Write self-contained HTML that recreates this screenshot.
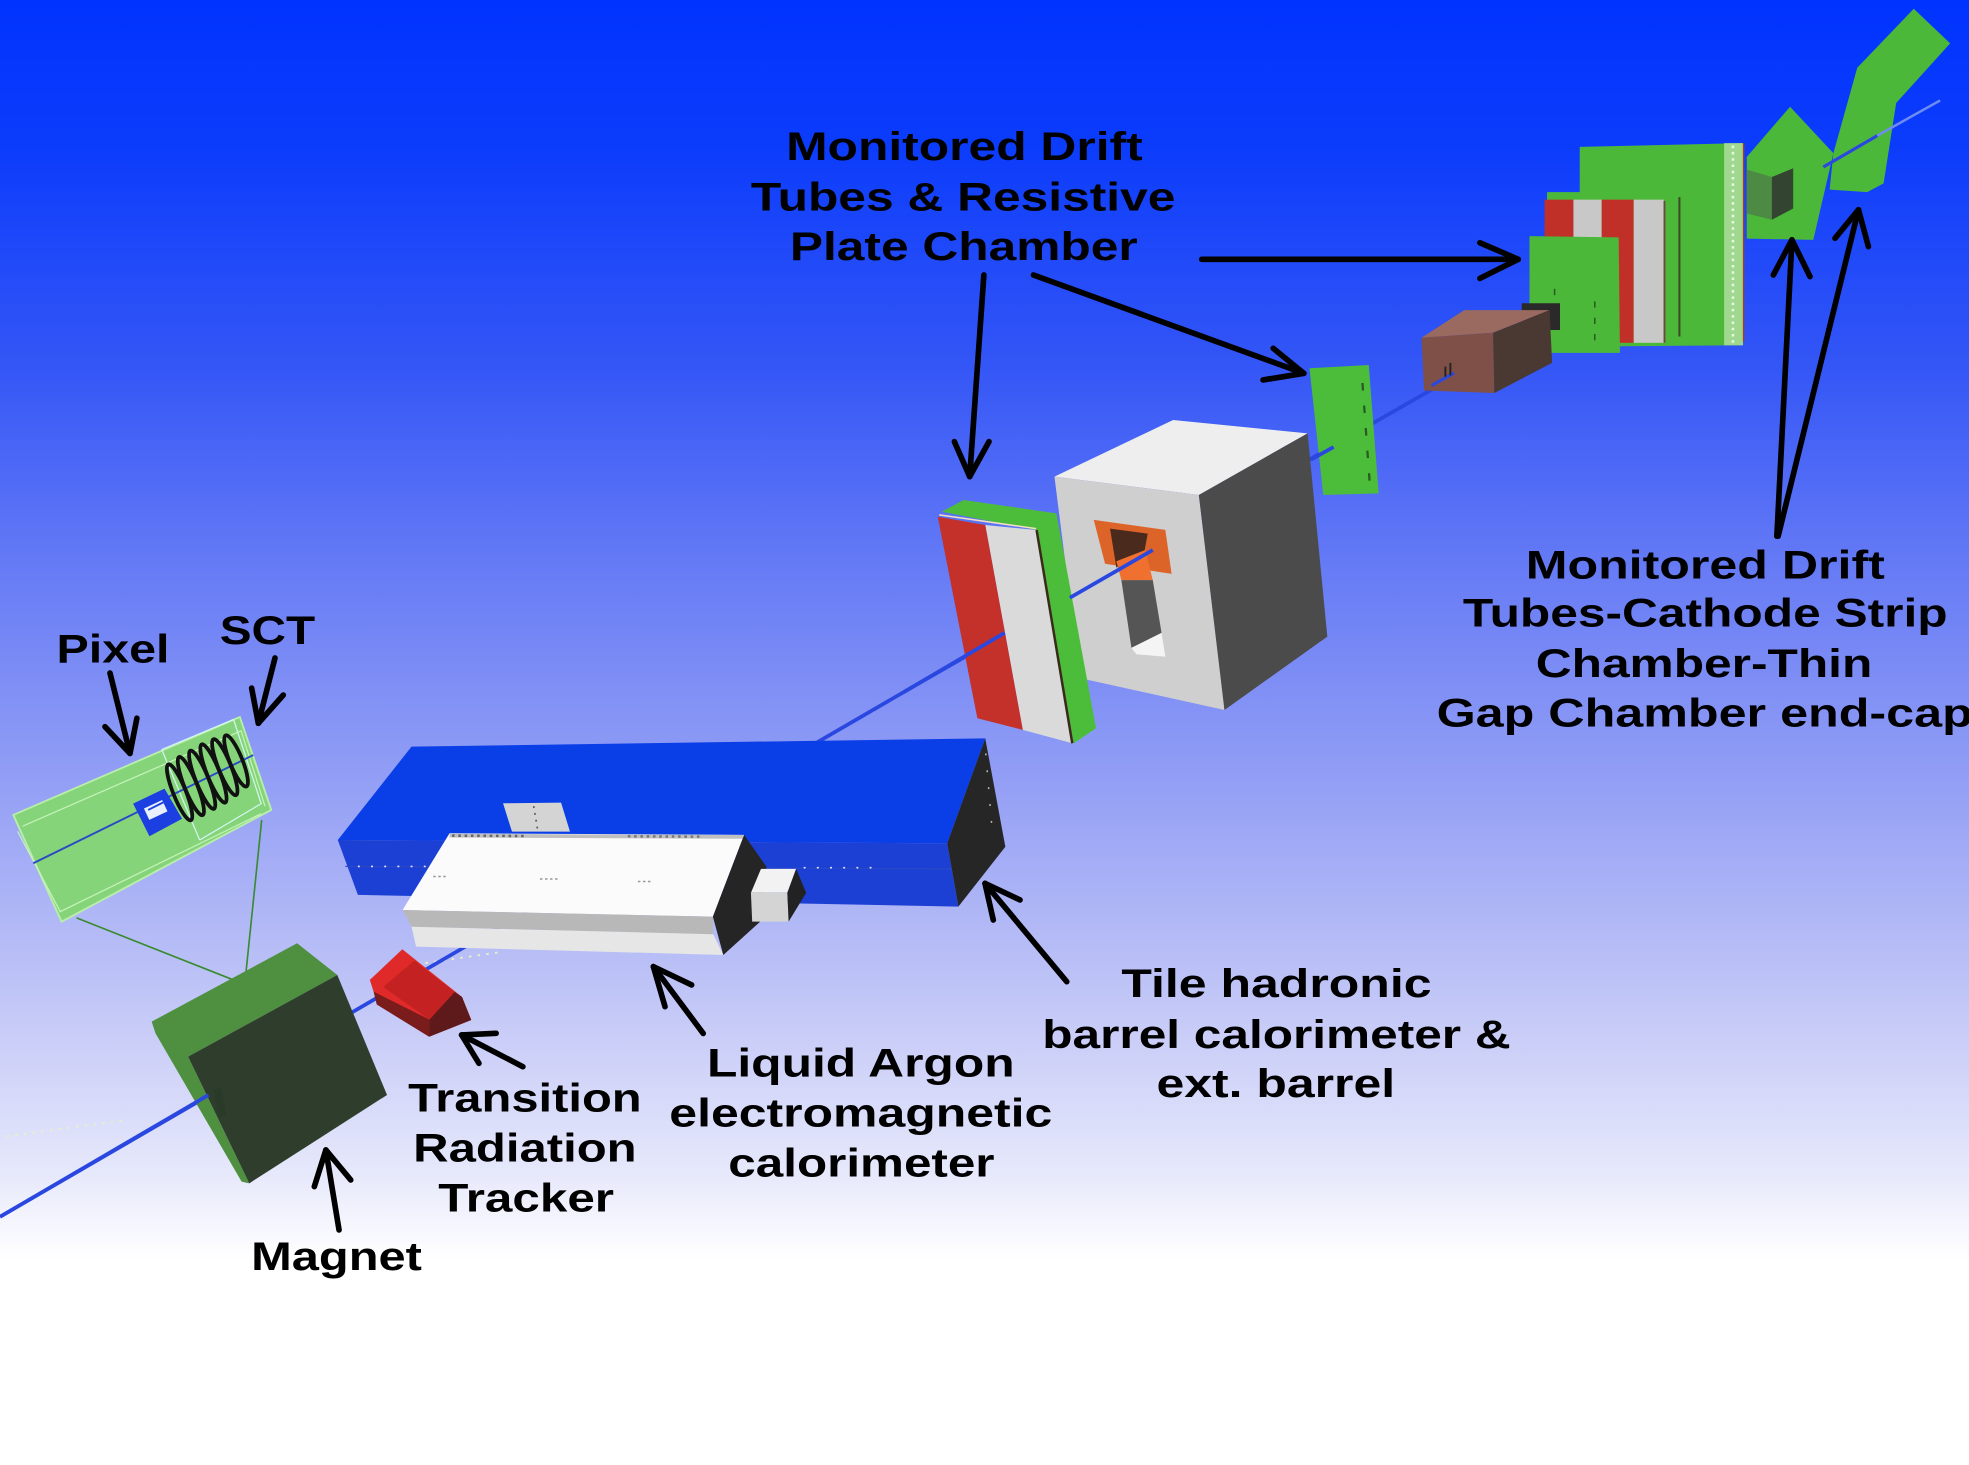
<!DOCTYPE html>
<html><head><meta charset="utf-8"><style>
html,body{margin:0;padding:0;background:#fff;overflow:hidden;}
svg{display:block;}
text{font-family:"Liberation Sans",Arial,sans-serif;font-weight:bold;font-size:32px;fill:#000;}
</style></head><body>
<svg width="1969" height="1465" viewBox="0 0 1568 1166.7" preserveAspectRatio="none" xmlns="http://www.w3.org/2000/svg">
<defs>
<linearGradient id="bg" x1="0" y1="0" x2="0" y2="1">
<stop offset="0" stop-color="#0033ff"/>
<stop offset="0.1" stop-color="#0c3cfb"/>
<stop offset="0.25" stop-color="#3456f6"/>
<stop offset="0.4" stop-color="#6a7ef5"/>
<stop offset="0.55" stop-color="#98a3f5"/>
<stop offset="0.7" stop-color="#c7cbf7"/>
<stop offset="0.8" stop-color="#e6e8fb"/>
<stop offset="0.86" stop-color="#ffffff"/>
<stop offset="1" stop-color="#ffffff"/>
</linearGradient>
</defs>
<rect x="0" y="0" width="1568" height="1166.7" fill="url(#bg)"/>

<polyline points="5,905 100,892" stroke="#e8f0c8" stroke-width="1.5" stroke-dasharray="2 5" fill="none"/>
<polyline points="318,770 400,758" stroke="#e8f0c8" stroke-width="1.5" stroke-dasharray="2 5" fill="none"/>

<polyline points="0,969 732,544 1158,300" stroke="#2a48e0" stroke-width="3" fill="none"/>

<polygon points="10.6,649 191,571 216,645 49,734" fill="#86d47a" stroke="#b8eeaa" stroke-width="1.5"/>
<polyline points="18,658 192,582 211,642" stroke="#c4f2b8" stroke-width="1" fill="none"/>
<polyline points="14,662 48,726 208,648" stroke="#c4f2b8" stroke-width="1" fill="none"/>
<polyline points="128.8,597 159,669" stroke="#d0f6f0" stroke-width="1" fill="none"/>
<polyline points="128.8,597 186,573 208,640 159,669" stroke="#d0f6f0" stroke-width="1" fill="none"/>
<line x1="26.5" y1="687.5" x2="201.7" y2="601.3" stroke="#2a48c8" stroke-width="1.5"/>
<polygon points="106,640 131,628 145,652 119,666" fill="#1b3fe0"/>
<rect x="116" y="640" width="16" height="10" fill="#e8f0ff" transform="rotate(-25 124 645)"/>
<line x1="118" y1="645" x2="130" y2="639" stroke="#1b3fe0" stroke-width="1.5"/>
<g fill="none" stroke="#111" stroke-width="3">
<ellipse cx="143" cy="631" rx="5" ry="24" transform="rotate(-22 143 631)"/>
<ellipse cx="152" cy="626" rx="5" ry="25" transform="rotate(-22 152 626)"/>
<ellipse cx="161" cy="621" rx="5" ry="25" transform="rotate(-22 161 621)"/>
<ellipse cx="170" cy="616" rx="5" ry="25" transform="rotate(-22 170 616)"/>
<ellipse cx="179" cy="611" rx="5" ry="24" transform="rotate(-22 179 611)"/>
<ellipse cx="188" cy="606" rx="5" ry="22" transform="rotate(-22 188 606)"/>
</g>
<line x1="61" y1="731" x2="192.5" y2="783" stroke="#3a8a30" stroke-width="1.3"/>
<line x1="208.4" y1="653" x2="195" y2="783" stroke="#3a8a30" stroke-width="1.3"/>

<polygon points="120.8,813.6 236.6,751.2 268.6,776.5 149.8,841.5 198.5,942.4 192.4,941 123.8,822.9" fill="#4f8f40"/>
<polygon points="149.8,841.5 268.6,776.5 308.2,872 198.5,942.4" fill="#2f3e2c"/>
<polygon points="170,868 176,866 180,888 174,890" fill="#2a3a28"/>
<line x1="0" y1="969" x2="166" y2="872" stroke="#2a48e0" stroke-width="3"/>

<polygon points="294.5,780.4 320.4,756 367.6,793.7 375.3,812.3 341.7,825.6 297.5,789.7" fill="#e02a2a"/>
<polygon points="305,786 330,765 362,790 342,812" fill="#c42222"/>
<polygon points="342,812 362,790 368,794 375.3,812.3 341.7,825.6" fill="#5e1a1a"/>
<polygon points="297.5,789.7 342,812 341.7,825.6 300,800" fill="#7a1c1c"/>

<polygon points="269,669 327.7,594.6 784.6,588 754.3,671.6" fill="#0a3ee6"/>
<polygon points="269,669 754.3,671.6 763.2,722 285,712.7" fill="#1c40d4"/>
<line x1="275" y1="690" x2="758" y2="692" stroke="#2a48c8" stroke-width="1"/>
<line x1="285" y1="690" x2="340" y2="690" stroke="#e0e8ff" stroke-width="1.3" stroke-dasharray="1.5 9"/>
<line x1="640" y1="691" x2="700" y2="691" stroke="#e0e8ff" stroke-width="1.3" stroke-dasharray="1.5 9"/>
<polygon points="784.6,588 800.6,674.3 763.2,722 754.3,671.6" fill="#262626"/>
<line x1="785" y1="600" x2="790" y2="660" stroke="#bbb" stroke-width="1.2" stroke-dasharray="1.5 12"/>

<polygon points="400.6,639.7 446.8,639.2 453.9,662.3 407.7,662.3" fill="#d4d4d4"/>
<line x1="425" y1="642" x2="428" y2="660" stroke="#555" stroke-width="1.3" stroke-dasharray="1.5 4"/>
<polygon points="358,663.6 592.6,664.9 567.7,730 320.6,724.7" fill="#fbfbfb"/>
<line x1="358" y1="665.5" x2="592" y2="666.5" stroke="#c0c0c0" stroke-width="3"/>
<line x1="360" y1="665.5" x2="420" y2="665.8" stroke="#666" stroke-width="2" stroke-dasharray="2 3"/>
<line x1="500" y1="666" x2="560" y2="666.3" stroke="#777" stroke-width="2" stroke-dasharray="2 3"/>
<line x1="345" y1="698" x2="355" y2="698" stroke="#999" stroke-width="1.2" stroke-dasharray="2 2"/>
<line x1="430" y1="700" x2="445" y2="700" stroke="#999" stroke-width="1.2" stroke-dasharray="2 2"/>
<line x1="508" y1="702" x2="520" y2="702" stroke="#999" stroke-width="1.2" stroke-dasharray="2 2"/>
<polygon points="320.6,724.7 567.7,730 568,744 327.7,738" fill="#b8b8b8"/>
<polygon points="327.7,738 568,744 576,760.5 331.3,753.9" fill="#e6e6e6"/>
<polygon points="592.6,664.9 610.3,690.2 606.8,732.7 576,760.5 567.7,730" fill="#252525"/>
<polygon points="598,711 606,692 634,692 627,711" fill="#f2f2f2"/>
<polygon points="598,711 627,711 628,734 599,734" fill="#d4d4d4"/>
<polygon points="627,711 634,692 642,711 628,734" fill="#222"/>

<polygon points="839.7,379.6 934.2,334.5 1041.3,345.1 954.7,394.2" fill="#eeeeee"/>
<polygon points="839.7,379.6 954.7,394.2 975.1,565.4 860,540" fill="#cfcfcf"/>
<polygon points="954.7,394.2 1041.3,345.1 1057,507 975.1,565.4" fill="#4b4b4b"/>
<polygon points="871,414 928,422 933,457 880,449" fill="#dd6428"/>
<polygon points="884,421 914,425 911,441 889,452" fill="#4a2a1c"/>
<polygon points="889,447 912,438 918,462 893,462" fill="#f07030"/>
<polygon points="893,462 918,462 925,504 901,516" fill="#555555"/>
<polygon points="901,516 925,504 928,523 905,521" fill="#f4f4f4"/>

<polygon points="750,407.5 767.3,398.2 841.3,408.8 872.8,580 855,592 825.5,422.1" fill="#4cbd3a"/>
<polygon points="784.6,418.1 825.5,422.1 853.9,591.9 814.5,581.3" fill="#dadada"/>
<polygon points="746.8,411.5 784.6,418.1 814.5,581.3 778.3,572" fill="#c4302a"/>
<line x1="825.5" y1="422.1" x2="853.9" y2="591.9" stroke="#3a2a1a" stroke-width="2"/>
<line x1="748" y1="410" x2="825" y2="421" stroke="#f0e0c0" stroke-width="1.2"/>
<line x1="720" y1="551" x2="800" y2="504" stroke="#2a48e0" stroke-width="3"/>
<line x1="852" y1="476" x2="918" y2="438" stroke="#2a48e0" stroke-width="3"/>

<polygon points="1042.8,293.3 1090,290.7 1097.9,392.9 1053.8,394.2" fill="#4cbd3a"/>
<line x1="1085" y1="305" x2="1091" y2="388" stroke="#2a5a20" stroke-width="1.8" stroke-dasharray="6 12"/>
<line x1="1044" y1="366" x2="1062" y2="356" stroke="#2a48e0" stroke-width="3"/>

<polygon points="1258,117 1388,114 1388,275 1258,276" fill="#4cb83a"/>
<rect x="1373" y="114" width="15" height="161" fill="#a0d890"/>
<line x1="1380" y1="116" x2="1380" y2="273" stroke="#e8f8e0" stroke-width="2" stroke-dasharray="2 3"/>
<line x1="1388.5" y1="114" x2="1388.5" y2="272" stroke="#a04030" stroke-width="1.2"/>
<line x1="1337.4" y1="157" x2="1337.4" y2="268" stroke="#3a4a28" stroke-width="1.6"/>
<rect x="1232" y="153" width="28" height="8" fill="#4cb83a"/>
<rect x="1230" y="159" width="23" height="114" fill="#c03028"/>
<rect x="1253" y="159" width="22.5" height="114" fill="#c8c8c8"/>
<rect x="1275.5" y="159" width="25.5" height="114" fill="#c03028"/>
<rect x="1301" y="159" width="24" height="114" fill="#c8c8c8"/>
<line x1="1325.5" y1="160" x2="1325.5" y2="273" stroke="#6a4a3a" stroke-width="1.5"/>
<polygon points="1218,188 1289,189 1290,281 1218,281" fill="#4cb83a"/>
<line x1="1238" y1="230" x2="1238" y2="262" stroke="#2a5a20" stroke-width="1.2" stroke-dasharray="5 8"/>
<line x1="1270" y1="240" x2="1270" y2="275" stroke="#2a5a20" stroke-width="1.2" stroke-dasharray="5 8"/>

<rect x="1211.8" y="241.5" width="30.5" height="21.3" fill="#2a2a2a"/>
<polygon points="1132,269 1166,247 1234,247 1189,265" fill="#9a6a60"/>
<polygon points="1132,269 1189,265 1190,313 1134,311" fill="#7e5048"/>
<polygon points="1189,265 1234,247 1236,289 1190,313" fill="#4a3833"/>
<line x1="1140" y1="307" x2="1158" y2="297" stroke="#2a48e0" stroke-width="2.5"/>
<line x1="1151" y1="292" x2="1151" y2="300" stroke="#222" stroke-width="1.5"/>
<line x1="1155" y1="289" x2="1155" y2="299" stroke="#222" stroke-width="1.5"/>

<polygon points="1391,125 1425.5,85 1460,122 1444,191 1391,190" fill="#4cb83a"/>
<polygon points="1391,135 1411,141 1411,175 1391,170" fill="#4d8a44"/>
<polygon points="1411,141 1428,134 1428,166 1411,175" fill="#334530"/>
<polygon points="1460,122 1479,54 1524,7 1553,34.5 1510,82 1500,146 1487,153 1457,151" fill="#4cb83a"/>
<line x1="1452" y1="133" x2="1495" y2="108" stroke="#2a48e0" stroke-width="2.5"/>
<line x1="1495" y1="108" x2="1545" y2="80" stroke="#6f8cf0" stroke-width="2"/>

<g stroke="#000" stroke-width="4.5" stroke-linecap="round" stroke-linejoin="round" fill="none">
<line x1="87.6" y1="536" x2="103.5" y2="600"/>
<polyline points="83.6,578.7 103.5,600 109,572"/>
<line x1="219" y1="524" x2="205.7" y2="576"/>
<polyline points="200.4,548 205.7,576 225.6,553.5"/>
<line x1="270" y1="979.5" x2="259.5" y2="915.8"/>
<polyline points="250.3,945 259.5,915.8 279.3,939.7"/>
<line x1="416.4" y1="849.5" x2="367.6" y2="824.2"/>
<polyline points="395.1,822.9 367.6,824.2 381.4,846.8"/>
<line x1="560" y1="823" x2="520.3" y2="769.8"/>
<polyline points="529.6,801.7 520.3,769.8 550.8,784.4"/>
<line x1="849.5" y1="781.8" x2="784.4" y2="703.5"/>
<polyline points="791,732.7 784.4,703.5 812.3,716.7"/>
<line x1="783.5" y1="219" x2="772.2" y2="379.6"/>
<polyline points="760,351.7 772.2,379.6 787.6,351.7"/>
<line x1="823" y1="219" x2="1038.3" y2="297.3"/>
<polyline points="1013.9,277.4 1038.3,297.3 1005.8,302.6"/>
<line x1="957" y1="206.5" x2="1209" y2="206.5"/>
<polyline points="1178.5,193.3 1209,206.5 1178.5,221.7"/>
<line x1="1415" y1="427" x2="1427" y2="191"/>
<polyline points="1412.2,219 1427,191 1441.4,220.3"/>
<line x1="1416" y1="427" x2="1480" y2="167"/>
<polyline points="1461.3,189.8 1480,167 1487.9,196.4"/>
</g>

<g>
<text x="626" y="127.5" textLength="284" lengthAdjust="spacingAndGlyphs">Monitored Drift</text>
<text x="598" y="167.5" textLength="338" lengthAdjust="spacingAndGlyphs">Tubes &amp; Resistive</text>
<text x="629" y="207" textLength="277" lengthAdjust="spacingAndGlyphs">Plate Chamber</text>

<text x="1215" y="460.6" textLength="286" lengthAdjust="spacingAndGlyphs">Monitored Drift</text>
<text x="1165" y="499" textLength="386" lengthAdjust="spacingAndGlyphs">Tubes-Cathode Strip</text>
<text x="1223" y="539" textLength="268" lengthAdjust="spacingAndGlyphs">Chamber-Thin</text>
<text x="1144" y="578.7" textLength="427" lengthAdjust="spacingAndGlyphs">Gap Chamber end-cap</text>

<text x="45" y="527.7" textLength="90" lengthAdjust="spacingAndGlyphs">Pixel</text>
<text x="175" y="513" textLength="76" lengthAdjust="spacingAndGlyphs">SCT</text>

<text x="200" y="1011.4" textLength="136" lengthAdjust="spacingAndGlyphs">Magnet</text>

<text x="325" y="885" textLength="186" lengthAdjust="spacingAndGlyphs">Transition</text>
<text x="329" y="925" textLength="178" lengthAdjust="spacingAndGlyphs">Radiation</text>
<text x="349" y="965" textLength="140" lengthAdjust="spacingAndGlyphs">Tracker</text>

<text x="563" y="857.5" textLength="245" lengthAdjust="spacingAndGlyphs">Liquid Argon</text>
<text x="533" y="897" textLength="305" lengthAdjust="spacingAndGlyphs">electromagnetic</text>
<text x="580" y="937" textLength="212" lengthAdjust="spacingAndGlyphs">calorimeter</text>

<text x="893" y="794" textLength="247" lengthAdjust="spacingAndGlyphs">Tile hadronic</text>
<text x="830" y="834.5" textLength="373" lengthAdjust="spacingAndGlyphs">barrel calorimeter &amp;</text>
<text x="921" y="873.5" textLength="190" lengthAdjust="spacingAndGlyphs">ext. barrel</text>
</g>
</svg>
</body></html>
